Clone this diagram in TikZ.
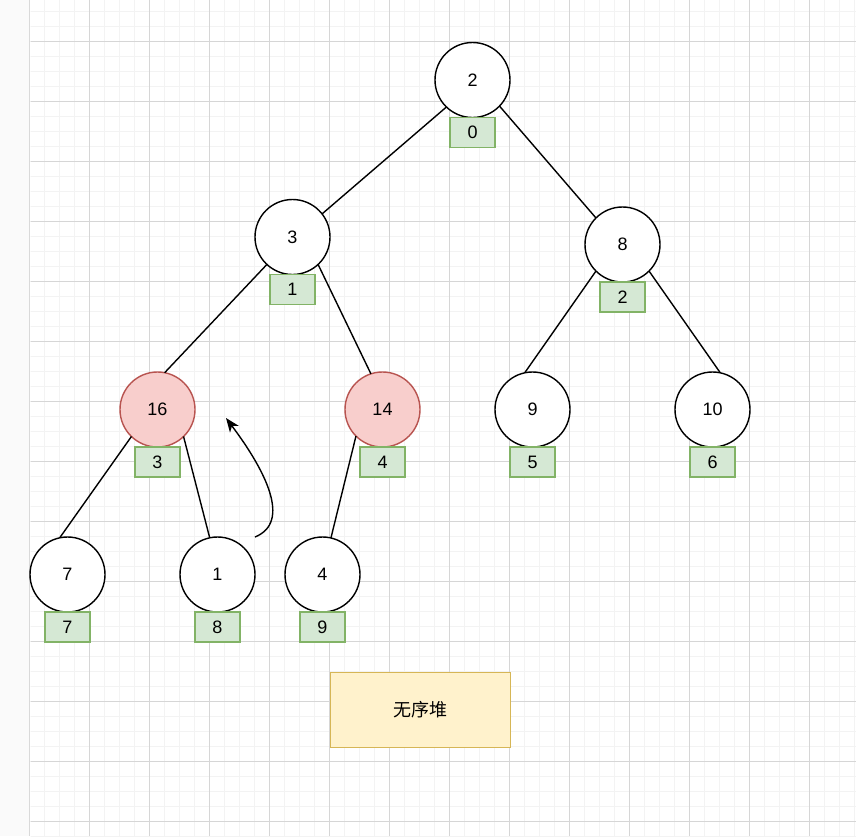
\documentclass[tikz,border=0pt]{standalone}
\usepackage{fontspec}
\setmainfont{Liberation Sans}
\newfontfamily\cjk{Noto Sans CJK SC}
\usetikzlibrary{positioning,arrows.meta}
\definecolor{redfill}{HTML}{F8CECC}
\definecolor{redline}{HTML}{B85450}
\definecolor{grnfill}{HTML}{D5E8D4}
\definecolor{grnline}{HTML}{82B366}
\definecolor{ylwfill}{HTML}{FFF2CC}
\definecolor{ylwline}{HTML}{D6B656}
\definecolor{gridmin}{HTML}{F3F3F3}
\definecolor{gridmaj}{HTML}{D6D6D6}
\tikzset{
  vtx/.style={circle,draw=black,fill=white,line width=1.4pt,minimum size=75pt,inner sep=0pt,outer sep=0pt,font=\fontsize{18}{21}\selectfont},
  hot/.style={vtx,draw=redline,fill=redfill},
  idx/.style={draw=grnline,fill=grnfill,line width=1.4pt,minimum width=45pt,minimum height=30pt,inner sep=0pt,outer sep=0pt,font=\fontsize{18}{21}\selectfont},
  memo/.style={draw=ylwline,fill=ylwfill,line width=1.4pt,minimum width=180pt,minimum height=75pt,inner sep=0pt,font=\cjk\fontsize{18}{21}\selectfont},
  link/.style={line width=1.4pt},
  swap/.style={line width=1.4pt,-{Stealth[length=14pt,width=11pt,inset=4pt]}},
}

\begin{document}
\begin{tikzpicture}[x=1pt,y=-1pt]
\useasboundingbox (0,0) rectangle (856,836);
% canvas
\fill[white] (0,0) rectangle (856,836);
\fill[black!2] (0,0) rectangle (30,836);
\draw[gray!30,line width=1.5pt] (29.5,0) -- (29.5,836);
\begin{scope}
\clip (30.5,0) rectangle (856,836);
\foreach \y in {11,26,...,836} \draw[gridmin,line width=1pt] (30,\y) -- (856,\y);
\foreach \x in {44,59,...,856} \draw[gridmin,line width=1pt] (\x,0) -- (\x,836);
\foreach \y in {41,101,...,836} \draw[gridmaj,line width=1pt] (30,\y) -- (856,\y);
\foreach \x in {89,149,...,856} \draw[gridmaj,line width=1pt] (\x,0) -- (\x,836);
\end{scope}
% heap nodes
\node[vtx] (n0) at (472.5,80) {2};
\node[vtx] (n1) at (292.5,237) {3};
\node[vtx] (n2) at (622.5,244.5) {8};
\node[hot] (n3) at (157.5,409.5) {16};
\node[hot] (n4) at (382.5,409.5) {14};
\node[vtx] (n5) at (532.5,409.5) {9};
\node[vtx] (n6) at (712.5,409.5) {10};
\node[vtx] (n7) at (67.5,574.5) {7};
\node[vtx] (n8) at (217.5,574.5) {1};
\node[vtx] (n9) at (322.5,574.5) {4};
\foreach \i in {0,...,9}{\node[idx,below=0pt of n\i] (b\i) {\i};}
\foreach \a/\p/\b/\q in {0/-134/1/38,0/-44/2/135,1/-133/3/79,1/-47/4/108,2/-135/5/102,2/-45/6/78,3/-134/7/102,3/-46/8/102,4/-135/9/77}{\draw[link] (n\a.\p) -- (n\b.\q);}
% sift-up hint
\coordinate (tip) at (226,418);
\draw[swap] (n8.east |- n8.north) .. controls (292,522) and (265,470) .. (tip);
\node[memo] (cap) at (420.5,710) {无序堆};
\end{tikzpicture}
\end{document}
